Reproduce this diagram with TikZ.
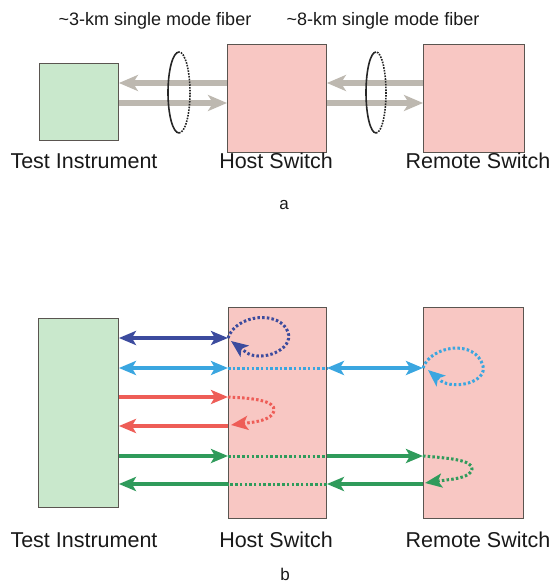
\documentclass[tikz,border=0pt]{standalone}
\usepackage{fontspec}
\setmainfont{Liberation Sans}
\usetikzlibrary{arrows.meta,calc}
\definecolor{gfill}{HTML}{C9E8CC}
\definecolor{pfill}{HTML}{F8C7C3}
\definecolor{edge}{HTML}{5A5550}
\definecolor{grayarr}{HTML}{BDB8B0}
\definecolor{dblue}{HTML}{3C4B9E}
\definecolor{lblue}{HTML}{3AA6E0}
\definecolor{redc}{HTML}{EE5D57}
\definecolor{greenc}{HTML}{2F9B5B}
\tikzset{
  box/.style={draw=edge, line width=0.9pt, anchor=north west, inner sep=0pt},
  gbox/.style={box, fill=gfill},
  pbox/.style={box, fill=pfill},
  lab/.style={font=\fontsize{21.5}{24}\selectfont, text=black!90, inner sep=0pt},
  fib/.style={font=\fontsize{18}{21}\selectfont, text=black!90, inner sep=0pt},
  sub/.style={font=\fontsize{17}{20}\selectfont, text=black!90, inner sep=0pt},
  gtip/.tip={Stealth[length=19pt,width=16pt,inset=5pt]},
  ctip/.tip={Stealth[length=17pt,width=14pt,inset=4pt]},
  garr/.style={draw=grayarr, line width=6.5pt, -gtip},
  arr/.style={line width=3.5pt, -ctip},
  dbl/.style={line width=3.5pt, ctip-ctip},
  dotl/.style={line width=3pt, dash pattern=on 2.5pt off 2.2pt},
  ring/.style={line width=1.6pt, black!85},
}
\begin{document}
\begin{tikzpicture}[x=1pt,y=-1pt]
\useasboundingbox (0,0) rectangle (554,585);
% ---------- panel a ----------
\node[fib] (f1) at (155,21) {\textasciitilde3-km single mode fiber};
\node[fib] (f2) at (383,21) {\textasciitilde8-km single mode fiber};
\node[gbox, minimum width=79pt, minimum height=77pt] (ta) at (39,63) {};
\node[pbox, minimum width=99pt, minimum height=108pt] (ha) at (227,44) {};
\node[pbox, minimum width=101pt, minimum height=108pt] (ra) at (423,44) {};
\coordinate (ya1) at (0,83);
\coordinate (ya2) at (0,103);
\draw[garr] (ha.west |- ya1) -- (ta.east |- ya1);
\draw[garr] (ta.east |- ya2) -- (ha.west |- ya2);
\draw[garr] (ra.west |- ya1) -- (ha.east |- ya1);
\draw[garr] (ha.east |- ya2) -- (ra.west |- ya2);
\coordinate (e1) at (179,52);
\coordinate (e1b) at (179,133);
\coordinate (e2) at (376,52);
\coordinate (e2b) at (376,133);
\draw[ring] (e1) arc[start angle=90,end angle=270,x radius=11pt,y radius=40.5pt];
\draw[ring, dash pattern=on 1.6pt off 1.2pt] (e1b) arc[start angle=270,end angle=450,x radius=11pt,y radius=40.5pt];
\draw[ring] (e2) arc[start angle=90,end angle=270,x radius=10pt,y radius=40.5pt];
\draw[ring, dash pattern=on 1.6pt off 1.2pt] (e2b) arc[start angle=270,end angle=450,x radius=10pt,y radius=40.5pt];
\node[lab] (la1) at (84,161) {Test Instrument};
\node[lab] (la2) at (276,161) {Host Switch};
\node[lab] (la3) at (478,161) {Remote Switch};
\node[sub] (sa) at (284,205) {a};
% ---------- panel b ----------
\node[gbox, minimum width=80pt, minimum height=189pt] (tb) at (38,318) {};
\node[pbox, minimum width=98pt, minimum height=211pt] (hb) at (228,307) {};
\node[pbox, minimum width=100pt, minimum height=211pt] (rb) at (423,307) {};
\coordinate (y1) at (0,338);
\coordinate (y2) at (0,368);
\coordinate (y3) at (0,397);
\coordinate (y4) at (0,426);
\coordinate (y5) at (0,456);
\coordinate (y6) at (0,484);
% dark blue
\draw[dbl, dblue] (tb.east |- y1) -- (hb.west |- y1);
\draw[dotl, dblue, -ctip] (hb.west |- y1) .. controls (236,314) and (280,310) .. (288,332)
   .. controls (294,350) and (262,362) .. (247,353) -- (231,341);
% light blue
\draw[dbl, lblue] (tb.east |- y2) -- (hb.west |- y2);
\draw[dotl, lblue] (hb.west |- y2) -- (hb.east |- y2);
\draw[dbl, lblue] (hb.east |- y2) -- (rb.west |- y2);
\draw[dotl, lblue, -ctip] (rb.west |- y2) .. controls (430,346) and (475,338) .. (483,366)
   .. controls (487,382) and (455,390) .. (441,381) -- (428,370);
% red
\draw[arr, redc] (tb.east |- y3) -- (hb.west |- y3);
\draw[dotl, redc, -ctip] (hb.west |- y3) .. controls (250,398) and (276,400) .. (274,411)
   .. controls (272,420) and (255,422) .. (247,423) -- (231,425);
\draw[arr, redc] (hb.west |- y4) -- (tb.east |- y4);
% green
\draw[arr, greenc] (tb.east |- y5) -- (hb.west |- y5);
\draw[dotl, greenc] (hb.west |- y5) -- (hb.east |- y5);
\draw[arr, greenc] (hb.east |- y5) -- (rb.west |- y5);
\draw[dotl, greenc, -ctip] (rb.west |- y5) .. controls (448,458) and (473,460) .. (472,469)
   .. controls (471,477) and (455,479) .. (446,480) -- (425,483);
\draw[arr, greenc] (rb.west |- y6) -- (hb.east |- y6);
\draw[dotl, greenc] (hb.east |- y6) -- (hb.west |- y6);
\draw[arr, greenc] (hb.west |- y6) -- (tb.east |- y6);
\node[lab] (lb1) at (84,540) {Test Instrument};
\node[lab] (lb2) at (276,540) {Host Switch};
\node[lab] (lb3) at (478,540) {Remote Switch};
\node[sub] (sb) at (285,574) {b};
\end{tikzpicture}
\end{document}
